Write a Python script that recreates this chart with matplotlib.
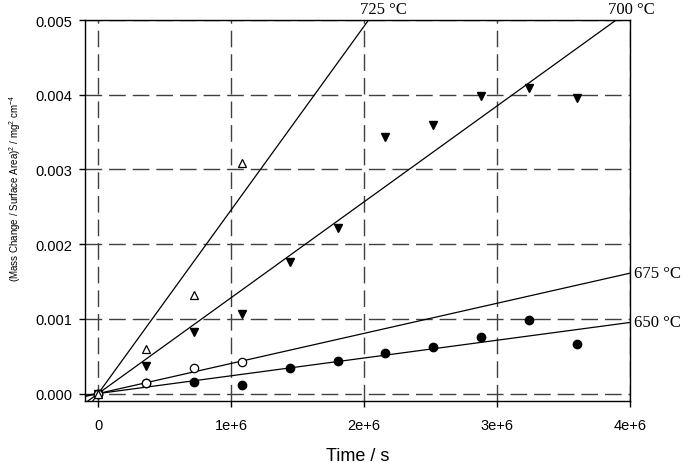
import numpy as np
import matplotlib
matplotlib.use("Agg")
import matplotlib.pyplot as plt

plt.rcParams['font.family'] = ['Liberation Sans', 'DejaVu Sans']
plt.rcParams['mathtext.default'] = 'regular'

# exposure times (s)
t_long = [0, 0.36e6, 0.72e6, 1.08e6, 1.44e6, 1.8e6, 2.16e6, 2.52e6, 2.88e6, 3.24e6, 3.6e6]
t_short = [0, 0.36e6, 0.72e6, 1.08e6]

# (mass change / area)^2, mg^2 cm^-4
y_650 = [0, 0.00014, 0.000153, 0.000116, 0.00034, 0.000442, 0.000549, 0.000629, 0.000755, 0.00099, 0.000665]
y_675 = [0, 0.000147, 0.000348, 0.00042]
y_700 = [0, 0.000375, 0.00082, 0.00107, 0.00176, 0.00222, 0.00344, 0.0036, 0.00399, 0.00409, 0.00395]
y_725 = [0, 0.000598, 0.00132, 0.00308]

# parabolic rate constants of the fitted lines
kp = {'650 °C': 2.38e-10, '675 °C': 4.03e-10, '700 °C': 1.284e-9, '725 °C': 2.46e-9}

xlim = (-1e5, 4e6)
ylim = (-0.0001, 0.005)

fig = plt.figure(figsize=(6.85, 4.64), dpi=100)
ax = fig.add_axes([0.124, 0.1336, 0.796, 0.821])

ax.grid(True, color='#404040', linestyle=(0, (12, 5)), linewidth=1.0)
ax.set_axisbelow(True)

# fitted lines
tf = np.array(xlim)
for name, k in kp.items():
    ax.plot(tf, k * tf, color='black', linewidth=0.9, zorder=2)

ms = 6
ax.plot(t_long, y_650, 'o', color='black', markersize=ms, zorder=3)
ax.plot(t_short, y_675, 'o', markerfacecolor='white', markeredgecolor='black',
        markersize=ms, markeredgewidth=0.9, zorder=4)
ax.plot(t_long, y_700, 'v', color='black', markersize=ms, zorder=3)
ax.plot(t_short, y_725, '^', markerfacecolor='white', markeredgecolor='black',
        markersize=ms, markeredgewidth=0.9, zorder=4)

# temperature labels
serif = ['Liberation Serif', 'DejaVu Serif']
for name in ['725 °C', '700 °C']:
    xt = ylim[1] / kp[name]
    ax.annotate(name, (xt, ylim[1]), xytext=(11, 2), textcoords='offset points',
                ha='center', va='bottom', fontsize=12, family=serif,
                annotation_clip=False)
for name in ['675 °C', '650 °C']:
    ax.annotate(name, (xlim[1], kp[name] * xlim[1]), xytext=(3, 0),
                textcoords='offset points', ha='left', va='center',
                fontsize=12, family=serif, annotation_clip=False)

ax.set_xlim(*xlim)
ax.set_ylim(*ylim)
ax.set_xticks([0, 1e6, 2e6, 3e6, 4e6])
ax.set_xticklabels(['0', '1e+6', '2e+6', '3e+6', '4e+6'])
ax.set_yticks([0, 0.001, 0.002, 0.003, 0.004, 0.005])
ax.set_yticklabels(['0.000', '0.001', '0.002', '0.003', '0.004', '0.005'])
ax.tick_params(axis='both', direction='out', length=4, width=1, labelsize=10.5,
               colors='black')
ax.tick_params(axis='x', pad=8)
ax.tick_params(axis='y', pad=5)
ax.tick_params(top=False, right=False)
for s in ax.spines.values():
    s.set_linewidth(1.0)

ax.set_xlabel('Time / s', fontsize=13, labelpad=11)
ax.set_ylabel('(Mass Change / Surface Area)$^{2}$ / mg$^{2}$ cm$^{-4}$',
              fontsize=7)
ax.yaxis.set_label_coords(-0.113, 0.56)

fig.savefig('out.png', dpi=100)
